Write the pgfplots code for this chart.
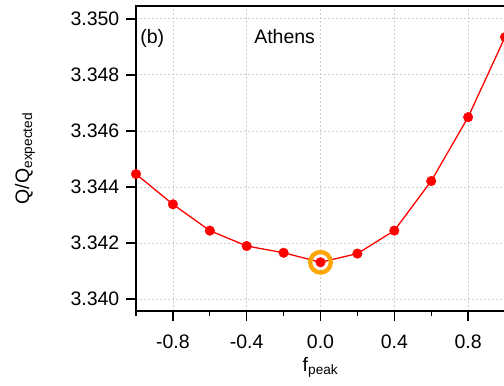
\documentclass[border=0pt]{standalone}
\usepackage{pgfplots}
\pgfplotsset{compat=1.18}
\usepackage{fontspec}
\setmainfont{Liberation Sans}
\definecolor{ptred}{RGB}{255,0,0}
\definecolor{ringorange}{RGB}{255,166,0}
\definecolor{gridgray}{RGB}{205,205,205}

\pgfplotstableread{
f      q
-1.0   3.34446
-0.8   3.34338
-0.6   3.34244
-0.4   3.34189
-0.2   3.34165
 0.0   3.34131
 0.2   3.34162
 0.4   3.34244
 0.6   3.34421
 0.8   3.34649
 1.0   3.34935
}\athens

\begin{document}
\fontsize{19.5}{23}\selectfont
\begin{tikzpicture}
\begin{axis}[
  scale only axis,
  width=369pt, height=305pt,
  xmin=-1, xmax=1,
  ymin=3.33957, ymax=3.35046,
  axis line style={line width=1.3pt, black},
  every tick/.style={line width=1.3pt, black},
  tick align=outside,
  xtick pos=bottom, ytick pos=left,
  major tick length=10pt, minor tick length=5pt,
  xtick={-0.8,-0.4,0,0.4,0.8},
  minor xtick={-1,-0.6,-0.2,0.2,0.6,1},
  ytick={3.340,3.342,3.344,3.346,3.348,3.350},
  xticklabel style={yshift=-7pt, /pgf/number format/.cd, fixed, fixed zerofill, precision=1},
  yticklabel style={/pgf/number format/.cd, fixed, fixed zerofill, precision=3},
  /pgf/number format/assume math mode=true,
  scaled y ticks=false,
  ymajorgrids, xmajorgrids,
  major grid style={gridgray, line width=0.8pt, dash pattern=on 2pt off 2pt},
  xlabel={f\textsubscript{peak}},
  ylabel={Q/Q\textsubscript{expected}},
  every axis x label/.style={at={(axis description cs:0.5,-0.197)}, anchor=base},
  every axis y label/.style={at={(axis description cs:-0.3008,0.5)}, rotate=90, anchor=center},
]
% highlighted minimum
\addplot[only marks, mark=o, mark size=10.3pt, ringorange,
         mark options={line width=4.3pt}] coordinates {(0.0,3.34131)};
% Athens curve
\addplot[ptred, line width=1.3pt, mark=*, mark size=4.8pt,
         mark options={fill=ptred, draw=ptred, line width=0.4pt}] table[x=f, y=q] {\athens};
\node[anchor=base west, inner sep=0pt] at (rel axis cs:0.011,0.878) {(b)};
\node[anchor=base west, inner sep=0pt] at (rel axis cs:0.320,0.878) {Athens};
\end{axis}
\pgfresetboundingbox
\path[use as bounding box]
  ([xshift=-136pt, yshift=-74pt]current axis.south west)
  rectangle ([xshift=-1pt, yshift=6pt]current axis.north east);
\end{tikzpicture}
\end{document}
